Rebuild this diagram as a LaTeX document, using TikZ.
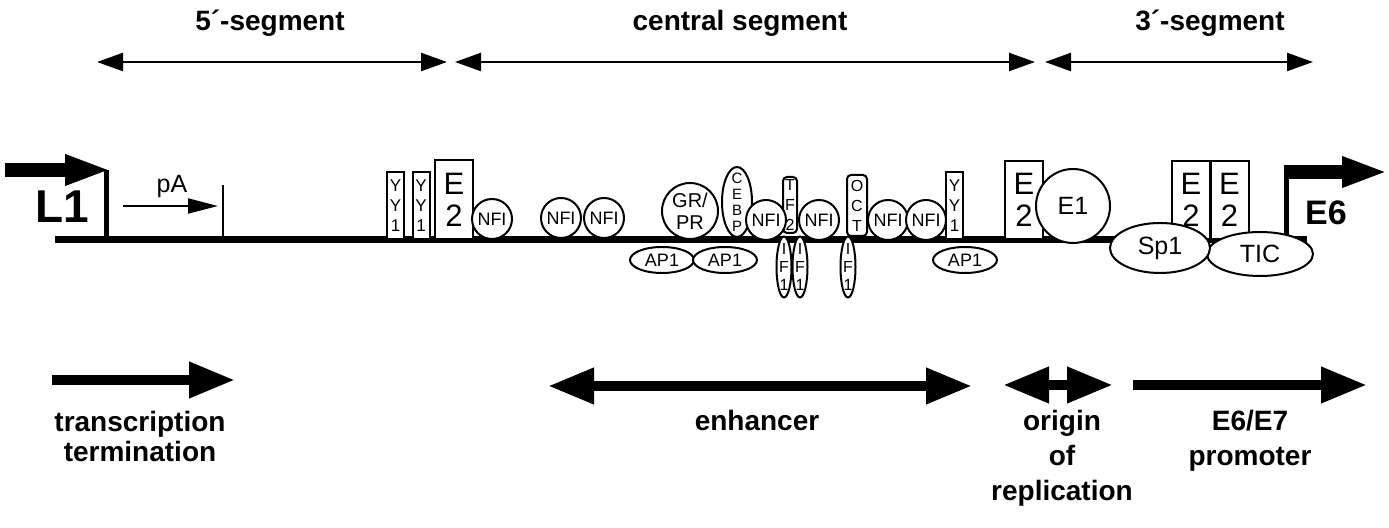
\documentclass[tikz,border=0pt]{standalone}
\usepackage{fontspec}
\setmainfont{Liberation Sans}
\usetikzlibrary{shapes.geometric,arrows.meta}

\tikzstyle{caption} = [font=\fontsize{14}{17}\selectfont\bfseries, anchor=base, inner sep=0pt]
\tikzstyle{dna} = [line width=3.5pt]
\tikzstyle{segarrow} = [line width=1.2pt, {Triangle[length=13pt,width=9pt]}-{Triangle[length=13pt,width=9pt]}]
\tikzstyle{fatarrow} = [line width=5pt, -{Triangle[length=23pt,width=17pt]}]
\tikzstyle{fatboth} = [line width=5pt, {Triangle[length=23pt,width=17pt]}-{Triangle[length=23pt,width=17pt]}]
\tikzstyle{startarrow} = [line width=7pt, -{Triangle[length=23pt,width=14pt]}]
\tikzstyle{factor} = [draw, fill=white, line width=1pt, inner sep=0pt, align=center]
\tikzstyle{yybox} = [factor, rectangle, anchor=south, minimum width=8.5pt, minimum height=33.5pt, font=\fontsize{8.5}{10}\selectfont]
\tikzstyle{etwo} = [factor, rectangle, anchor=south, minimum width=19pt, minimum height=39pt, font=\fontsize{15.5}{16}\selectfont]
\tikzstyle{slimbox} = [factor, rectangle, rounded corners=2pt, font=\fontsize{8}{10}\selectfont]
\tikzstyle{nfi} = [factor, circle, minimum size=20pt, font=\fontsize{9}{10}\selectfont]
\tikzstyle{apone} = [factor, ellipse, minimum width=32pt, minimum height=13pt, font=\fontsize{9}{10}\selectfont]
\tikzstyle{ifone} = [factor, ellipse, minimum width=7.5pt, minimum height=30.5pt, inner xsep=-2pt, inner ysep=-8pt, font=\fontsize{8}{9}\selectfont]
\tikzstyle{bigfactor} = [factor, font=\fontsize{12.5}{14}\selectfont]

\begin{document}
\begin{tikzpicture}[x=0.5pt, y=-0.5pt]
        \useasboundingbox (0,0) rectangle (1389,528);

        \node (segfive) [caption] at (270,31) {5´-segment};
        \node (segcentral) [caption] at (740,31) {central segment};
        \node (segthree) [caption] at (1210,31) {3´-segment};
        \coordinate (fiveL) at (97,62);
        \coordinate (fiveR) at (447,62);
        \coordinate (centralL) at (455,62);
        \coordinate (centralR) at (1035,62);
        \coordinate (threeL) at (1045,62);
        \coordinate (threeR) at (1313,62);
        \draw [segarrow] (fiveL) -- (fiveR);
        \draw [segarrow] (centralL) -- (centralR);
        \draw [segarrow] (threeL) -- (threeR);

        \coordinate (lonetail) at (5,170);
        \coordinate (lonetip) at (111,170);
        \coordinate (lonetop) at (106,170);
        \coordinate (lonefoot) at (106,240);
        \coordinate (esixfoot) at (1286,240);
        \coordinate (esixtop) at (1286,167);
        \coordinate (esixtail) at (1284,172);
        \coordinate (esixtip) at (1388,172);
        \draw [line width=2.5pt] (lonefoot) -- (lonetop);
        \draw [startarrow] (lonetail) -- (lonetip);
        \draw [line width=2.5pt] (esixfoot) -- (esixtop);
        \draw [startarrow] (esixtail) -- (esixtip);
        \node (lone) [anchor=base, inner sep=0pt, font=\fontsize{23}{23}\selectfont\bfseries] at (62,223) {L1};
        \node (esix) [anchor=base, inner sep=0pt, font=\fontsize{17}{17}\selectfont\bfseries] at (1326,225) {E6};

        \coordinate (dnastart) at (55,240);
        \coordinate (dnaend) at (1307,240);
        \draw [dna] (dnastart) -- (dnaend);

        \node (pa) [anchor=base, inner sep=0pt, font=\fontsize{12.5}{14}\selectfont] at (172,193) {pA};
        \coordinate (patail) at (123,206);
        \coordinate (patip) at (218,206);
        \coordinate (patick) at (223,185);
        \coordinate (patickfoot) at (223,240);
        \draw [line width=1pt, -{Triangle[length=15pt,width=7.5pt]}] (patail) -- (patip);
        \draw [line width=1pt] (patick) -- (patickfoot);

        \node (yyA) [yybox] at (395.5,240) {Y\\Y\\1};
        \node (yyB) [yybox] at (421,240) {Y\\Y\\1};
        \node (etwoA) [etwo, minimum height=39.5pt] at (454,240) {E\\2};
        \node (yyC) [yybox] at (954.5,240) {Y\\Y\\1};
        \node (tftwo) [slimbox, minimum width=7pt, minimum height=28pt] at (790,205) {T\\F\\2};
        \node (oct) [slimbox, minimum width=10pt, minimum height=30.5pt] at (857,205.5) {O\\C\\T};
        \node (etwoB) [etwo] at (1024,240) {E\\2};
        \node (etwoC) [etwo] at (1191,240) {E\\2};
        \node (etwoD) [etwo] at (1229.5,240) {E\\2};

        \node (nfiA) [nfi] at (492,219) {NFI};
        \node (nfiB) [nfi] at (561,218) {NFI};
        \node (nfiC) [nfi] at (604,218) {NFI};
        \node (grpr) [factor, circle, minimum size=28pt, font=\fontsize{10}{11}\selectfont] at (690,211) {GR/\\PR};
        \node (cebp) [factor, ellipse, minimum width=15pt, minimum height=35pt, inner xsep=-2pt, inner ysep=-8pt, font=\fontsize{7.5}{8}\selectfont] at (737,202) {C\\E\\B\\P};
        \node (nfiD) [nfi] at (766,220) {NFI};
        \node (nfiE) [nfi] at (819,220) {NFI};
        \node (nfiF) [nfi] at (888,220) {NFI};
        \node (nfiG) [nfi] at (926,220) {NFI};
        \node (apA) [apone] at (662,260) {AP1};
        \node (apB) [apone] at (725,260) {AP1};
        \node (apC) [apone] at (965,260) {AP1};
        \node (ifA) [ifone] at (784,267) {I\\F\\1};
        \node (ifB) [ifone] at (800,267) {I\\F\\1};
        \node (ifC) [ifone] at (848,267) {I\\F\\1};
        \node (eone) [bigfactor, circle, minimum size=37pt] at (1073,206) {E1};
        \node (tic) [bigfactor, ellipse, minimum width=53pt, minimum height=22pt] at (1260,254) {TIC};
        \node (spone) [bigfactor, ellipse, minimum width=50pt, minimum height=25pt] at (1160,248) {Sp1};

        \coordinate (termL) at (52,380);
        \coordinate (termR) at (235,380);
        \coordinate (enhL) at (548,386);
        \coordinate (enhR) at (972,386);
        \coordinate (oriL) at (1003,385);
        \coordinate (oriR) at (1113,385);
        \coordinate (promL) at (1133,385);
        \coordinate (promR) at (1367,385);
        \draw [fatarrow] (termL) -- (termR);
        \draw [fatboth] (enhL) -- (enhR);
        \draw [fatboth] (oriL) -- (oriR);
        \draw [fatarrow] (promL) -- (promR);

        \node (termA) [caption] at (140,432) {transcription};
        \node (termB) [caption] at (140,462) {termination};
        \node (enh) [caption] at (757,431) {enhancer};
        \node (oriA) [caption] at (1062,431) {origin};
        \node (oriB) [caption] at (1062,466) {of};
        \node (oriC) [caption] at (1062,501) {replication};
        \node (promA) [caption] at (1250,431) {E6/E7};
        \node (promB) [caption] at (1250,466) {promoter};
\end{tikzpicture}
\end{document}
